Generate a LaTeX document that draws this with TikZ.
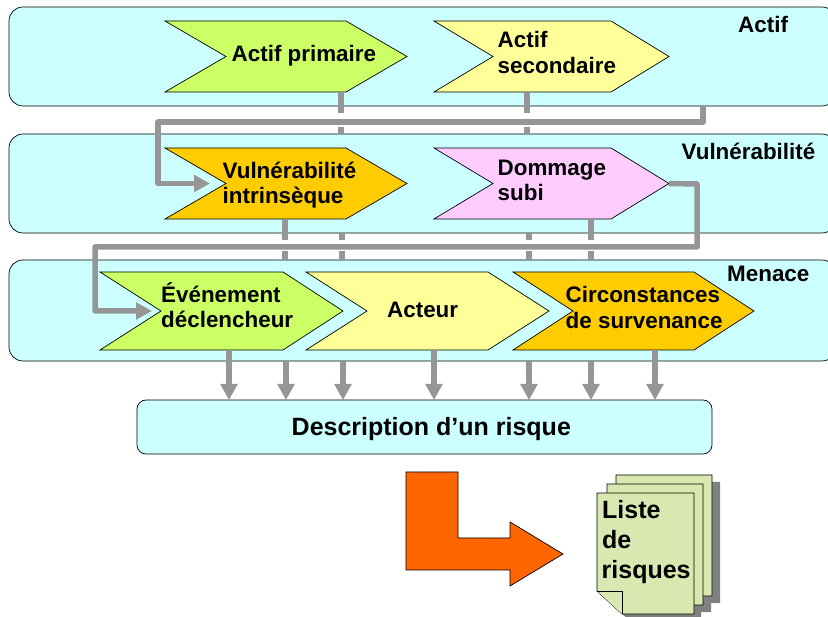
\documentclass[tikz,border=0pt]{standalone}
\usepackage{fontspec}
\setmainfont{Liberation Sans}
\usetikzlibrary{arrows.meta}
\definecolor{panelc}{HTML}{CCFFFF}
\definecolor{greenc}{HTML}{CCFF66}
\definecolor{yellowc}{HTML}{FFFF99}
\definecolor{orangec}{HTML}{FFCC00}
\definecolor{pinkc}{HTML}{FFCCFF}
\definecolor{linkc}{HTML}{969696}
\definecolor{pagec}{HTML}{D9E8B0}
\definecolor{bigc}{HTML}{FF6600}
\tikzset{
  panel/.style={draw=black,line width=0.7pt,fill=panelc,rounded corners=14pt},
  descbox/.style={draw=black,line width=0.7pt,fill=panelc,rounded corners=9pt},
  chev/.style={draw=black,line width=0.7pt,line join=miter},
  lab/.style={anchor=base west,inner sep=0pt,font=\fontsize{22.4}{25}\selectfont\bfseries},
  labbig/.style={lab,font=\fontsize{25}{28}\selectfont\bfseries},
  link/.style={draw=linkc,line width=5.5pt,line join=round},
  linka/.style={link,-{Triangle[length=16pt,width=16.5pt]}},
  sheet/.style={draw=black,line width=0.8pt,fill=pagec},
  shade/.style={fill=black!50,draw=none},
}
% name, left, notch, top right, tip, top, bottom, colour
\newcommand{\chevron}[8]{%
  \draw[chev,fill=#8] (#2,#6) -- (#4,#6) -- (#5,{(#6+#7)/2}) -- (#4,#7) -- (#2,#7) -- (#3,{(#6+#7)/2}) -- cycle;
  \coordinate (#1tip) at (#5,{(#6+#7)/2});
  \coordinate (#1notch) at (#3,{(#6+#7)/2});
}
\begin{document}
\begin{tikzpicture}[x=1pt,y=-1pt]
\useasboundingbox (0,0) rectangle (828,617);
\clip (0,0) rectangle (828,617);
\fill[white] (0,0) rectangle (828,617);
% panels
\draw[panel] (9,7) rectangle (836,106);
\draw[panel] (9,134) rectangle (836,233);
\draw[panel] (9,260) rectangle (836,361);
\coordinate (pActifOut) at (703,106);
% chevrons
\chevron{ap}{165}{226}{346}{407}{21}{92}{greenc}
\chevron{as}{434}{493}{611}{669}{21}{92}{yellowc}
\chevron{vi}{165}{226}{346}{407}{148}{219}{orangec}
\chevron{ds}{434}{493}{611}{669}{148}{219}{pinkc}
\chevron{ev}{100}{161}{283}{343}{272}{350}{greenc}
\chevron{ac}{306}{367}{488}{549}{272}{350}{yellowc}
\chevron{ci}{513}{573}{694}{754}{272}{350}{orangec}
% description box
\draw[descbox] (137,400) rectangle (712,454);
% links broken where they pass under the routed lines
\coordinate (a1) at (341,92); \coordinate (a1g) at (341,113);
\coordinate (a2) at (341,127); \coordinate (a2e) at (341,134);
\coordinate (b1) at (527,92); \coordinate (b1g) at (527,113);
\coordinate (b2) at (527,127); \coordinate (b2e) at (527,134);
\coordinate (c1) at (285,219); \coordinate (c1g) at (285,240);
\coordinate (c2) at (285,251); \coordinate (c2e) at (285,260);
\coordinate (d1) at (342,233); \coordinate (d1g) at (342,240);
\coordinate (d2) at (342,251); \coordinate (d2e) at (342,260);
\coordinate (e1) at (529,233); \coordinate (e1g) at (529,240);
\coordinate (e2) at (529,251); \coordinate (e2e) at (529,260);
\coordinate (f1) at (591,219); \coordinate (f1g) at (591,240);
\coordinate (f2) at (591,251); \coordinate (f2e) at (591,260);
\foreach \p/\q in {a1/a1g,a2/a2e,b1/b1g,b2/b2e,c1/c1g,c2/c2e,d1/d1g,d2/d2e,e1/e1g,e2/e2e,f1/f1g,f2/f2e}
  \draw[link] (\p) -- (\q);
% routed links
\draw[linka] (pActifOut) -- (703,121.8) -- (158,121.8) -- (158,183.5) -- (210,183.5);
\draw[linka] (dstip) -- (697,184) -- (697,247) -- (95,247) -- (95,311) -- (152,311);
% arrows to description
\foreach \x/\y in {229/350,286/361,343/361,434/350,529/361,591/361,655/350}
  \draw[linka] (\x,\y) -- (\x,400);
% big arrow
\draw[fill=bigc,draw=black,line width=0.7pt] (406,472) -- (458,472) -- (458,538) -- (510,538) -- (510,522) -- (563,554) -- (510,586) -- (510,570) -- (406,570) -- cycle;
% sheets: one shadow group behind all three, each with a cut corner
\fill[shade] (623,482) -- (720,482) -- (720,603) -- (648,603) -- (623,580) -- cycle;
\fill[shade] (614,491) -- (711,491) -- (711,612) -- (639,612) -- (614,589) -- cycle;
\fill[shade] (605,500) -- (701,500) -- (701,621) -- (630,621) -- (605,598.4) -- cycle;
\draw[sheet] (616,475) -- (712,475) -- (712,596) -- (641,596) -- (616,573) -- cycle;
\draw[sheet] (607,484) -- (703,484) -- (703,605) -- (632,605) -- (607,582) -- cycle;
\draw[sheet] (597,493) -- (694,493) -- (694,614) -- (622,614) -- (597,591) -- cycle;
\draw[sheet,line join=miter] (597,591) -- (622,591) -- (622,614);
% labels
\node[lab] (tap) at (231.5,61.7) {Actif primaire};
\node[lab] (tas1) at (497.5,47.7) {Actif};
\node[lab] (tas2) at (497.5,73.7) {secondaire};
\node[lab] (tvi1) at (222.5,178.7) {Vulnérabilité};
\node[lab] (tvi2) at (222.5,203.7) {intrinsèque};
\node[lab] (tds1) at (497.5,175.7) {Dommage};
\node[lab] (tds2) at (497.5,200.7) {subi};
\node[lab] (tev1) at (161,302.7) {Événement};
\node[lab] (tev2) at (161,327.7) {déclencheur};
\node[lab] (tac) at (387,317.7) {Acteur};
\node[lab] (tci1) at (565.5,302.7) {Circonstances};
\node[lab] (tci2) at (565.5,328.7) {de survenance};
\node[lab] (tp1) at (738,33) {Actif};
\node[lab] (tp2) at (681.5,159.7) {Vulnérabilité};
\node[lab] (tp3) at (727,281.7) {Menace};
\node[labbig] (tdesc) at (291.5,435.7) {Description d’un risque};
\node[labbig] (tl1) at (602,518.7) {Liste};
\node[labbig] (tl2) at (602,548.7) {de};
\node[labbig] (tl3) at (601.5,578.7) {risques};
\end{tikzpicture}
\end{document}
